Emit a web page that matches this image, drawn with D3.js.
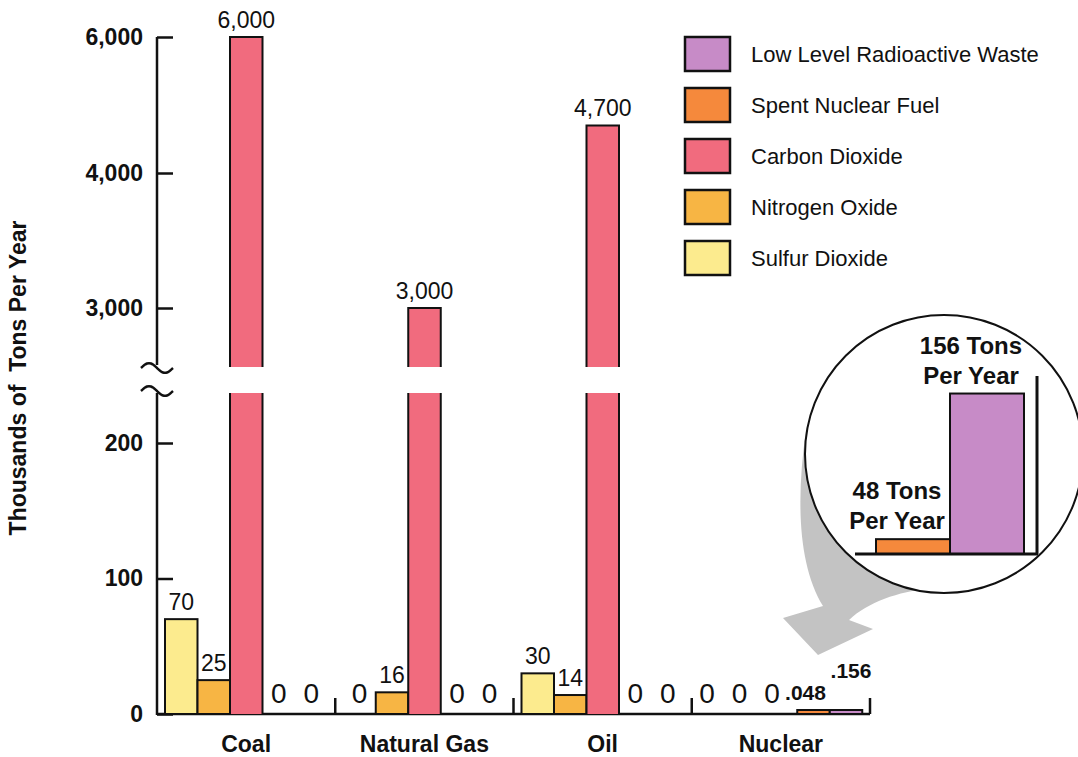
<!DOCTYPE html>
<html><head><meta charset="utf-8">
<script src="https://cdn.jsdelivr.net/npm/d3@7"></script>
<style>
body{margin:0;background:#fff}
svg{display:block}
text{font-family:"Liberation Sans",Arial,Helvetica,sans-serif;fill:#111}
</style>
</head><body>
<svg id="c" width="1078" height="757"></svg>
<script>
// ---------- data ----------
const categories = ["Coal", "Natural Gas", "Oil", "Nuclear"];
const seriesNames = ["Sulfur Dioxide", "Nitrogen Oxide", "Carbon Dioxide", "Spent Nuclear Fuel", "Low Level Radioactive Waste"];
const sulfurDioxide    = [70, 0, 30, 0];
const nitrogenOxide    = [25, 16, 14, 0];
const carbonDioxide    = [6000, 3000, 4700, 0];
const spentNuclearFuel = [0, 0, 0, 0.048];
const lowLevelWaste    = [0, 0, 0, 0.156];
const lowerTicks = [0, 100, 200];
const upperTicks = [3000, 4000, 6000];
const legendOrder = ["Low Level Radioactive Waste", "Spent Nuclear Fuel", "Carbon Dioxide", "Nitrogen Oxide", "Sulfur Dioxide"];
const insetNames = ["Spent Nuclear Fuel", "Low Level Radioactive Waste"];
const insetTons = [48, 156];
const yTitle = "Thousands of\u00A0 Tons Per Year";

const seriesValues = [sulfurDioxide, nitrogenOxide, carbonDioxide, spentNuclearFuel, lowLevelWaste];
const colors = {
  "Sulfur Dioxide": "#FCEB8E",
  "Nitrogen Oxide": "#F7B544",
  "Carbon Dioxide": "#F16B7E",
  "Spent Nuclear Fuel": "#F5893C",
  "Low Level Radioactive Waste": "#C78BC7"
};

const svg = d3.select("#c");

// ---------- scales ----------
const baseY = 714, lowTopPx = 393, highBotPx = 367;
const yLow = d3.scaleLinear().domain([0, 200]).range([baseY, 443]);
const yHigh = d3.scaleLinear().domain([3000, 4000, 6000]).range([308, 173, 37]);
const lowMax = yLow.invert(lowTopPx);
const axisX = 157, axisRight = 870;
const x0 = d3.scaleBand().domain(categories).range([axisX, axisRight]);
const x1 = d3.scaleBand().domain(seriesNames).range([8, x0.bandwidth() - 7.75]);

// ---------- gray arrow (behind circle) ----------
svg.append("path")
  .attr("d", "M806,430 C796,500 798,565 823,606 L783,618 L818,655 L873,629 L849,620 C868,602 898,592 930,588 L930,440 Z")
  .attr("fill", "#C3C3C3");

// ---------- axes ----------
const axisG = svg.append("g");
const lowAxis = d3.axisLeft(yLow).tickValues(lowerTicks).tickFormat(d3.format(",")).tickSizeInner(-16).tickSizeOuter(0).tickPadding(14);
const highAxis = d3.axisLeft(yHigh).tickValues(upperTicks).tickFormat(d3.format(",")).tickSizeInner(-16).tickSizeOuter(0).tickPadding(14);
[lowAxis, highAxis].forEach(ax => {
  const g = axisG.append("g").attr("transform", `translate(${axisX},0)`).call(ax);
  g.select(".domain").remove();
  g.selectAll(".tick line").attr("stroke", "#111").attr("stroke-width", 2.5);
  g.selectAll(".tick text").attr("font-size", 23).attr("font-weight", "bold").attr("fill", "#111")
    .attr("font-family", "'Liberation Sans',Arial,Helvetica,sans-serif");
});
// domain lines with break
axisG.append("line").attr("x1", axisX).attr("x2", axisX).attr("y1", yHigh(6000)).attr("y2", highBotPx - 2)
  .attr("stroke", "#111").attr("stroke-width", 2.5);
axisG.append("line").attr("x1", axisX).attr("x2", axisX).attr("y1", lowTopPx).attr("y2", baseY + 1)
  .attr("stroke", "#111").attr("stroke-width", 2.5);
// break tildes
[368, 391].forEach(yc => {
  const pts = d3.range(0, 33, 2).map(dx => [axisX - 16 + dx, yc - 5 * Math.sin(2 * Math.PI * dx / 32)]);
  axisG.append("path").attr("d", d3.line().curve(d3.curveBasis)(pts))
    .attr("fill", "none").attr("stroke", "#111").attr("stroke-width", 2.5);
});
// baseline
axisG.append("line").attr("x1", axisX).attr("x2", axisRight).attr("y1", baseY).attr("y2", baseY)
  .attr("stroke", "#111").attr("stroke-width", 2.5);
// group separators
categories.slice(1).map(c => x0(c)).concat([axisRight]).forEach(xs => {
  axisG.append("line").attr("x1", xs).attr("x2", xs).attr("y1", baseY).attr("y2", baseY - 16)
    .attr("stroke", "#111").attr("stroke-width", 2.5);
});

// ---------- bars ----------
const barsG = svg.append("g");
const fmtVal = v => v >= 1 ? d3.format(",")(v) : d3.format(".3f")(v).replace(/^0/, "");
categories.forEach((cat, i) => {
  seriesNames.forEach((s, j) => {
    const v = seriesValues[j][i];
    const x = x0(cat) + x1(s), w = x1.bandwidth(), cx = x + w / 2;
    const col = colors[s];
    if (v === 0) {
      barsG.append("text").attr("x", cx + (cat === "Nuclear" ? -9 : 0)).attr("y", 703)
        .attr("text-anchor", "middle").attr("font-size", 28).text("0");
      return;
    }
    let top;
    if (v <= lowMax) {
      const h = Math.max(baseY - yLow(v), 4);
      top = baseY - h;
      barsG.append("rect").attr("x", x).attr("y", top).attr("width", w).attr("height", h)
        .attr("fill", col).attr("stroke", "#111").attr("stroke-width", 2);
    } else {
      top = yHigh(v);
      barsG.append("rect").attr("x", x).attr("y", lowTopPx).attr("width", w).attr("height", baseY - lowTopPx).attr("fill", col);
      barsG.append("rect").attr("x", x).attr("y", top).attr("width", w).attr("height", highBotPx - top).attr("fill", col);
      barsG.append("path").attr("d", `M${x},${highBotPx}V${top}H${x + w}V${highBotPx}M${x},${lowTopPx}V${baseY}M${x + w},${lowTopPx}V${baseY}`)
        .attr("fill", "none").attr("stroke", "#111").attr("stroke-width", 2);
    }
    const small = v < 1;
    let lx = cx, ly = top - 9;
    if (small) { lx += (j === 4 ? 5 : -8); ly = top - 10 - (j === 4 ? 22 : 0); }
    barsG.append("text").attr("x", lx).attr("y", ly).attr("text-anchor", "middle")
      .attr("font-size", small ? 21 : 23).attr("font-weight", small ? "bold" : "normal").text(fmtVal(v));
  });
  svg.append("text").attr("x", x0(cat) + x0.bandwidth() / 2).attr("y", 752).attr("text-anchor", "middle")
    .attr("font-size", 23).attr("font-weight", "bold").text(cat);
});

// ---------- y title ----------
svg.append("text").attr("transform", "translate(26,378) rotate(-90)").attr("text-anchor", "middle")
  .attr("font-size", 23).attr("font-weight", "bold").style("white-space", "pre").text(yTitle);

// ---------- legend ----------
const leg = svg.append("g");
legendOrder.forEach((s, k) => {
  const ty = 37 + k * 51;
  leg.append("rect").attr("x", 685).attr("y", ty).attr("width", 45).attr("height", 34)
    .attr("fill", colors[s]).attr("stroke", "#111").attr("stroke-width", 2.5);
  leg.append("text").attr("x", 751).attr("y", ty + 25).attr("font-size", 22).text(s);
});

// ---------- inset ----------
const inset = svg.append("g");
inset.append("circle").attr("cx", 944).attr("cy", 454).attr("r", 139)
  .attr("fill", "#fff").attr("stroke", "#111").attr("stroke-width", 2);
const yIn = d3.scaleLinear().domain([37, 169]).range([554, 376]);
const xIn = d3.scaleBand().domain(insetNames).range([876, 1024]);
insetNames.forEach((s, k) => {
  const v = insetTons[k], top = yIn(v);
  inset.append("rect").attr("x", xIn(s)).attr("y", top).attr("width", xIn.bandwidth()).attr("height", yIn(37) - top)
    .attr("fill", colors[s]).attr("stroke", "#111").attr("stroke-width", 2);
  const cx = xIn(s) + xIn.bandwidth() / 2 - 16;
  inset.append("text").attr("x", cx).attr("y", top - 40).attr("text-anchor", "middle")
    .attr("font-size", 24).attr("font-weight", "bold").text(`${v} Tons`);
  inset.append("text").attr("x", cx).attr("y", top - 10).attr("text-anchor", "middle")
    .attr("font-size", 24).attr("font-weight", "bold").text("Per Year");
});
inset.append("line").attr("x1", 855).attr("x2", 1038).attr("y1", yIn(37)).attr("y2", yIn(37))
  .attr("stroke", "#111").attr("stroke-width", 3);
inset.append("line").attr("x1", 1037).attr("x2", 1037).attr("y1", yIn(169)).attr("y2", yIn(37))
  .attr("stroke", "#111").attr("stroke-width", 3);
</script>
</body></html>
